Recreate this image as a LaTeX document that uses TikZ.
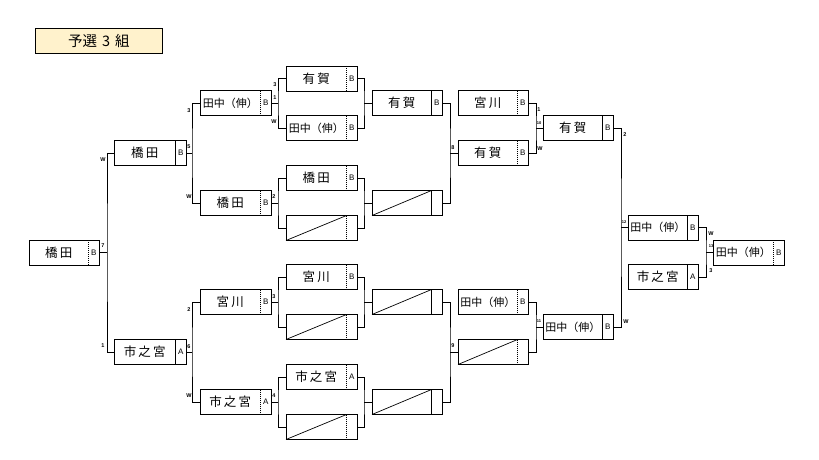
\documentclass[tikz,border=0pt]{standalone}
\usepackage{fontspec}
\setmainfont{Liberation Sans}
\newfontfamily\jp{Noto Sans CJK JP}
\usetikzlibrary{calc}
\definecolor{titlefill}{RGB}{255,242,204}
\tikzset{
 bx/.style={draw, line width=0.8pt, minimum height=25pt, inner sep=0pt, outer sep=0pt, anchor=west},
 nm/.style={font=\jp\fontsize{12.5}{12.5}\selectfont, inner sep=0pt},
 lt/.style={font=\fontsize{8}{8}\selectfont, inner sep=0pt},
 lb/.style={font=\fontsize{5.5}{5.5}\selectfont\bfseries, inner sep=0pt},
 lbs/.style={font=\fontsize{4}{4}\selectfont\bfseries, inner sep=0pt},
 ln/.style={line width=0.9pt},
 sepd/.style={line width=0.8pt, dash pattern=on 1pt off 1pt},
 seps/.style={line width=0.8pt},
}
\newcommand\tnk{{\fontsize{11}{11}\selectfont 田中（伸）}}
\newcommand\bracketbox[7]{%
 \node[bx, minimum width=#4pt] (#1) at (#2,#3) {};
 \draw[#7] ([xshift=-10.5pt]#1.north east) -- ([xshift=-10.5pt]#1.south east);
 \node[nm] at ($(#1.west)!0.5!([xshift=-10.5pt]#1.east)$) {#5};
 \node[lt] at ([xshift=-5.25pt]#1.east) {#6};
}
\newcommand\slashbox[1]{\draw[line width=0.7pt] (#1.south west) -- ([xshift=-10.5pt]#1.north east);}
\begin{document}
\begin{tikzpicture}[x=1pt,y=-1pt]
\useasboundingbox (0,0) rectangle (819,460);
% title
\node[draw, line width=0.8pt, fill=titlefill, minimum width=127pt, minimum height=25pt, inner sep=0pt, anchor=north west, font=\jp\fontsize{14.5}{14.5}\selectfont] (title) at (35,28) {予選\hspace{5pt}3\hspace{5pt}組};
% R0
\bracketbox{b0}{29}{252.5}{70}{橋\,田}{B}{sepd}
% R1
\bracketbox{b1a}{114}{153}{72}{橋\,田}{B}{seps}
\bracketbox{b1b}{114}{352}{72}{市\,之\,宮}{A}{seps}
% R2
\bracketbox{b2a}{200}{103}{71}{\tnk}{B}{sepd}
\bracketbox{b2b}{200}{203}{71}{橋\,田}{B}{sepd}
\bracketbox{b2c}{200}{302}{71}{宮\,川}{B}{sepd}
\bracketbox{b2d}{200}{402}{71}{市\,之\,宮}{A}{sepd}
% R3
\bracketbox{b3a}{286}{78.5}{71}{有\,賀}{B}{sepd}
\bracketbox{b3b}{286}{128}{71}{\tnk}{B}{sepd}
\bracketbox{b3c}{286}{178}{71}{橋\,田}{B}{sepd}
\bracketbox{b3d}{286}{228}{71}{}{}{sepd}\slashbox{b3d}
\bracketbox{b3e}{286}{277}{71}{宮\,川}{B}{sepd}
\bracketbox{b3f}{286}{327}{71}{}{}{sepd}\slashbox{b3f}
\bracketbox{b3g}{286}{377}{71}{市\,之\,宮}{A}{sepd}
\bracketbox{b3h}{286}{427}{71}{}{}{sepd}\slashbox{b3h}
% R4
\bracketbox{b4a}{372}{103}{70}{有\,賀}{B}{seps}
\bracketbox{b4b}{372}{203}{70}{}{}{seps}\slashbox{b4b}
\bracketbox{b4c}{372}{302}{70}{}{}{seps}\slashbox{b4c}
\bracketbox{b4d}{372}{402}{70}{}{}{seps}\slashbox{b4d}
% R5
\bracketbox{b5a}{458}{103}{70}{宮\,川}{B}{sepd}
\bracketbox{b5b}{458}{153}{70}{有\,賀}{B}{sepd}
\bracketbox{b5c}{458}{302}{70}{\tnk}{B}{sepd}
\bracketbox{b5d}{458}{352}{70}{}{}{sepd}\slashbox{b5d}
% R6
\bracketbox{b6a}{543}{128}{70}{有\,賀}{B}{seps}
\bracketbox{b6b}{543}{327}{70}{\tnk}{B}{seps}
% R7
\bracketbox{b7a}{628}{227.5}{70}{\tnk}{B}{seps}
\bracketbox{b7b}{628}{277}{70}{市\,之\,宮}{A}{seps}
% R8
\bracketbox{b8}{713}{252.5}{71}{\tnk}{B}{sepd}
% junctions
\coordinate (j0) at (107,252.5);
\coordinate (j1a) at (192,153);
\coordinate (j1b) at (192,352);
\coordinate (j2a) at (278,103);
\coordinate (j2b) at (278,203);
\coordinate (j2c) at (278,302);
\coordinate (j2d) at (278,402);
\coordinate (j3a) at (364,103);
\coordinate (j3b) at (364,203);
\coordinate (j3c) at (364,302);
\coordinate (j3d) at (364,402);
\coordinate (j4a) at (450,153);
\coordinate (j4b) at (450,352);
\coordinate (j5a) at (536,128);
\coordinate (j5b) at (536,327);
\coordinate (j6) at (621,227.5);
\coordinate (j7) at (706,252.5);
% left-side connectors
\draw[ln] (b0.east) -- (j0);
\draw[ln] (b1a.west) -| (j0) |- (b1b.west);
\draw[ln] (b1a.east) -- (j1a);
\draw[ln] (b2a.west) -| (j1a) |- (b2b.west);
\draw[ln] (b1b.east) -- (j1b);
\draw[ln] (b2c.west) -| (j1b) |- (b2d.west);
\draw[ln] (b2a.east) -- (j2a);
\draw[ln] (b3a.west) -| (j2a) |- (b3b.west);
\draw[ln] (b2b.east) -- (j2b);
\draw[ln] (b3c.west) -| (j2b) |- (b3d.west);
\draw[ln] (b2c.east) -- (j2c);
\draw[ln] (b3e.west) -| (j2c) |- (b3f.west);
\draw[ln] (b2d.east) -- (j2d);
\draw[ln] (b3g.west) -| (j2d) |- (b3h.west);
% right-side connectors
\draw[ln] (b3a.east) -| (j3a) |- (b3b.east); \draw[ln] (j3a) -- (b4a.west);
\draw[ln] (b3c.east) -| (j3b) |- (b3d.east); \draw[ln] (j3b) -- (b4b.west);
\draw[ln] (b3e.east) -| (j3c) |- (b3f.east); \draw[ln] (j3c) -- (b4c.west);
\draw[ln] (b3g.east) -| (j3d) |- (b3h.east); \draw[ln] (j3d) -- (b4d.west);
\draw[ln] (b4a.east) -| (j4a) |- (b4b.east); \draw[ln] (j4a) -- (b5b.west);
\draw[ln] (b4c.east) -| (j4b) |- (b4d.east); \draw[ln] (j4b) -- (b5d.west);
\draw[ln] (b5a.east) -| (j5a) |- (b5b.east); \draw[ln] (j5a) -- (b6a.west);
\draw[ln] (b5c.east) -| (j5b) |- (b5d.east); \draw[ln] (j5b) -- (b6b.west);
\draw[ln] (b6a.east) -| (j6) |- (b6b.east); \draw[ln] (j6) -- (b7a.west);
\draw[ln] (b7a.east) -| (j7) |- (b7b.east); \draw[ln] (j7) -- (b8.west);
% labels
\node[lb] (l01) at (103,160) {W};
\node[lb] (l02) at (103,246) {7};
\node[lb] (l03) at (103,346) {1};
\node[lb] (l04) at (189,111) {3};
\node[lb] (l05) at (189,147) {5};
\node[lb] (l06) at (189,197) {W};
\node[lb] (l07) at (189,310) {2};
\node[lb] (l08) at (189,347) {6};
\node[lb] (l09) at (189,396) {W};
\node[lb] (l10) at (275,85) {3};
\node[lb] (l11) at (275,98) {1};
\node[lb] (l12) at (274,122) {W};
\node[lb] (l13) at (274,197) {2};
\node[lb] (l14) at (274,297) {3};
\node[lb] (l15) at (274,396) {4};
\node[lb] (l16) at (453,148) {8};
\node[lb] (l17) at (453,346) {9};
\node[lb] (l18) at (539,110) {1};
\node[lbs] (l19) at (539,123) {10};
\node[lb] (l20) at (540,149) {W};
\node[lbs] (l21) at (539,321) {11};
\node[lb] (l22) at (625,135) {2};
\node[lbs] (l23) at (624,222) {12};
\node[lb] (l24) at (626,322) {W};
\node[lb] (l25) at (711,234) {W};
\node[lbs] (l26) at (711,246) {13};
\node[lb] (l27) at (711,271) {3};
\end{tikzpicture}
\end{document}
